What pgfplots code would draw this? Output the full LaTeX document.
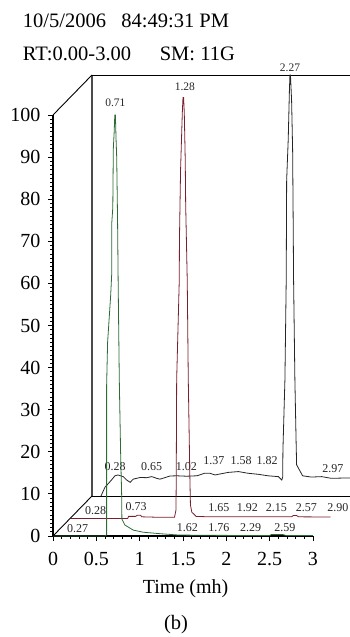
\documentclass[border=0pt]{standalone}
\usepackage{fontspec}
\setmainfont{Liberation Serif}
\usepackage{pgfplots}
\pgfplotsset{compat=1.18}

\definecolor{trgreen}{RGB}{45,108,52}
\definecolor{trred}{RGB}{122,32,45}

\pgfplotsset{
  trace/.style={scale only axis, width=260pt, height=421pt,
    xmin=0, xmax=3, ymin=0, ymax=100, clip=false, hide axis,
    anchor=south west},
}
\tikzset{
  rt/.style={font=\fontsize{11.5}{12}\selectfont, text=black!85, inner sep=0pt},
  rl/.style={font=\fontsize{12}{12}\selectfont, text=black!85, inner sep=0pt},
}

\begin{document}
\begin{tikzpicture}

% ---- back trace (third channel) ----
\begin{axis}[trace, at={(92pt,141pt)}]
  \draw[black!70, line width=1.4pt] (axis cs:0,0) -- (axis cs:0,100);
  \draw[line width=0.9pt] (axis cs:0,100) -- (axis cs:3.05,100);
  \draw[line width=0.9pt] (axis cs:0,0) -- (axis cs:3.05,0);
  \coordinate (Btop) at (axis cs:0,100);
  \coordinate (Bbot) at (axis cs:0,0);
  \addplot[black!85, line width=0.8pt] coordinates {
    (0.104,0) (0.15,2.1) (0.208,3.4) (0.265,4.8) (0.30,5.0) (0.36,4.6)
    (0.40,3.8) (0.44,3.25) (0.476,4.0) (0.554,4.4) (0.63,4.35) (0.69,4.6)
    (0.746,4.2) (0.784,4.0) (0.84,4.35) (0.90,4.75) (0.977,4.8) (1.09,4.7)
    (1.21,4.8) (1.30,5.4) (1.36,5.4) (1.42,5.0) (1.57,5.6) (1.69,5.8)
    (1.80,5.4) (1.92,5.15) (2.03,4.8) (2.15,4.6) (2.19,3.8) (2.20,4.5)
    (2.203,10.9) (2.226,27.6) (2.241,51.3) (2.246,75) (2.264,84.6)
    (2.278,96.4) (2.284,100) (2.29,100) (2.303,94) (2.315,82.2)
    (2.322,63.2) (2.326,51.3) (2.341,27.6) (2.355,13) (2.361,7.4)
    (2.43,4.8) (2.53,4.5) (2.65,4.6) (2.76,4.2) (2.98,4.3)
  };
  \node[rt] at (axis cs:2.284,101.8) {2.27};
  \node[rl] at (axis cs:0.266,6.9) {0.28};
  \node[rl] at (axis cs:0.689,6.9) {0.65};
  \node[rl] at (axis cs:1.09,6.9) {1.02};
  \node[rl] at (axis cs:1.407,8.5) {1.37};
  \node[rl] at (axis cs:1.72,8.5) {1.58};
  \node[rl] at (axis cs:2.02,8.5) {1.82};
  \node[rl] at (axis cs:2.78,6.4) {2.97};
\end{axis}

% ---- middle trace (second channel) ----
\begin{axis}[trace, at={(70.5pt,118.5pt)}]
  \addplot[trred, line width=0.8pt] coordinates {
    (0,0) (0.66,0) (0.67,0.5) (0.75,0.5) (0.77,0.75) (0.81,0.75) (0.82,0.4)
    (1.0,0.3) (1.2,0.3) (1.217,2) (1.22,9) (1.225,33) (1.255,56.6)
    (1.257,66) (1.27,82.8) (1.29,96.3) (1.298,100) (1.305,100)
    (1.313,96.3) (1.324,85) (1.329,74.5) (1.347,56.6) (1.359,33)
    (1.378,9) (1.384,3.2) (1.40,1.5) (1.45,0.5) (1.6,0.4) (2.0,0.4)
    (2.55,0.4) (2.57,0.7) (2.61,0.7) (2.63,0.4) (3.0,0.35)
  };
  \node[rt] at (axis cs:1.32,102.5) {1.28};
  \node[rl] at (axis cs:0.29,1.8) {0.28};
  \node[rl] at (axis cs:0.756,2.8) {0.73};
  \node[rl] at (axis cs:1.713,2.5) {1.65};
  \node[rl] at (axis cs:2.04,2.5) {1.92};
  \node[rl] at (axis cs:2.376,2.5) {2.15};
  \node[rl] at (axis cs:2.722,2.5) {2.57};
  \node[rl] at (axis cs:3.085,2.5) {2.90};
\end{axis}

% ---- front trace (first channel) with the scales ----
\begin{axis}[
  scale only axis, width=260pt, height=421pt,
  at={(53pt,101pt)}, anchor=south west,
  xmin=0, xmax=3, ymin=0, ymax=100, clip=false,
  axis x line=bottom, axis y line=left,
  axis line style={-, line width=1.1pt},
  x axis line style={-}, y axis line style={-},
  xtick={0,0.5,1,1.5,2,2.5,3},
  ytick={0,10,20,30,40,50,60,70,80,90,100},
  minor x tick num=4, minor y tick num=9,
  tick align=outside,
  major tick length=5pt, minor tick length=3pt,
  tick style={black, line width=0.8pt},
  /pgf/number format/assume math mode=true,
  ticklabel style={font=\fontsize{20}{20}\selectfont},
  xticklabel style={yshift=-8pt},
  yticklabel style={xshift=-4pt},
  xlabel={Time (mh)},
  xlabel style={font=\fontsize{20}{20}\selectfont,
    at={(axis description cs:0.51,0)}, anchor=base, yshift=-57.5pt},
]
  \coordinate (Ftop) at (axis cs:0,100);
  \coordinate (Fbot) at (axis cs:0,0);
  \addplot[trgreen, line width=0.8pt] coordinates {
    (0,0) (0.6,0) (0.619,0.3) (0.619,36) (0.63,46) (0.665,57) (0.677,62)
    (0.677,74) (0.69,78) (0.696,92) (0.706,96) (0.713,100) (0.72,100)
    (0.724,97) (0.728,94) (0.735,90) (0.745,75) (0.752,60) (0.765,37)
    (0.78,20) (0.792,10) (0.795,4) (0.83,2.6) (0.926,1.4) (1.04,0.9)
    (1.234,0.55) (1.44,0.24) (1.70,0.17) (2.27,0.12) (2.50,0.12)
    (2.52,0.35) (2.65,0.35) (2.69,0.12) (3.0,0.1)
  };
  \node[rt] at (axis cs:0.72,103) {0.71};
  \node[rl] at (axis cs:0.283,1.8) {0.27};
  \node[rl] at (axis cs:1.55,2.1) {1.62};
  \node[rl] at (axis cs:1.915,2.1) {1.76};
  \node[rl] at (axis cs:2.28,2.1) {2.29};
  \node[rl] at (axis cs:2.675,2.1) {2.59};
\end{axis}

% depth edges of the box
\draw[line width=0.9pt] (Ftop) -- (Btop);
\draw[line width=0.9pt] (Fbot) -- (Bbot);

% run header and panel tag
\node[anchor=base west, inner sep=0pt, font=\fontsize{20.5}{21}\selectfont]
  at (22.7pt,609pt) {10/5/2006\hspace{0.75em}84:49:31 PM};
\node[anchor=base west, inner sep=0pt, font=\fontsize{20.5}{21}\selectfont]
  at (22.7pt,576.5pt) {RT:0.00-3.00\hspace{1.4em}SM: 11G};
\node[anchor=base, inner sep=0pt, font=\fontsize{20.5}{21}\selectfont]
  at (176pt,7pt) {(b)};

\pgfresetboundingbox
\useasboundingbox (0,0) rectangle (350pt,637pt);
\end{tikzpicture}
\end{document}
